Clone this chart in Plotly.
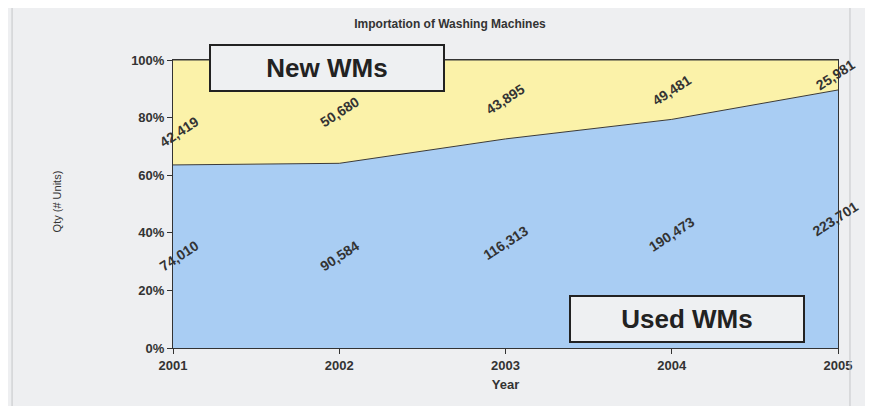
import plotly.graph_objects as go

years = [2001, 2002, 2003, 2004, 2005]
used_wms = [74010, 90584, 116313, 190473, 223701]
new_wms = [42419, 50680, 43895, 49481, 25981]
y_ticks = [0, 20, 40, 60, 80, 100]

FONT = "Liberation Sans, Arial, sans-serif"
TEXT = "#333333"

fig = go.Figure()

fig.add_trace(go.Scatter(
    x=years, y=used_wms, name="Used WMs", mode="lines",
    stackgroup="one", groupnorm="percent",
    line=dict(color="#3a3a3a", width=1), fillcolor="#a9cdf3",
))
fig.add_trace(go.Scatter(
    x=years, y=new_wms, name="New WMs", mode="lines",
    stackgroup="one",
    line=dict(color="#3a3a3a", width=1), fillcolor="#fbf2a9",
))

# value labels, placed in the middle of each band (edge labels nudged inward a bit)
x_nudge = {2001: 6, 2005: -3}
annotations = []
for yr, u, n in zip(years, used_wms, new_wms):
    total = u + n
    used_pct = u / total * 100
    dx = x_nudge.get(yr, 0)
    annotations.append(dict(x=yr, y=used_pct / 2, text=f"<b>{u:,}</b>", showarrow=False,
                            xshift=dx, textangle=-33,
                            font=dict(size=14, color=TEXT, family=FONT)))
    annotations.append(dict(x=yr, y=(used_pct + 100) / 2, text=f"<b>{n:,}</b>", showarrow=False,
                            xshift=dx, yshift=-20 if yr == 2001 else 0, textangle=-33,
                            font=dict(size=14, color=TEXT, family=FONT)))

# series name boxes
box_style = dict(xref="paper", yref="paper", xanchor="center", yanchor="middle",
                 showarrow=False, bgcolor="#eef0f2",
                 bordercolor="#222222", borderwidth=2, borderpad=2, width=228, height=40,
                 font=dict(size=26, color="#222222", family=FONT))
annotations.append(dict(x=0.2316, y=0.972, text="<b>New WMs</b>", **box_style))
annotations.append(dict(x=0.773, y=0.102, text="<b>Used WMs</b>", **box_style))

# y axis title
annotations.append(dict(x=-0.174, y=0.51, xref="paper", yref="paper", text="Qty (# Units)",
                        xanchor="center", yanchor="middle",
                        textangle=-90, showarrow=False,
                        font=dict(size=11, color=TEXT, family=FONT)))

fig.update_layout(
    width=865, height=398,
    margin=dict(l=165, r=35, t=52, b=58),
    paper_bgcolor="#eeeff1", plot_bgcolor="#eeeff1",
    showlegend=False,
    title=dict(text="<b>Importation of Washing Machines</b>", x=0.511, xanchor="center",
               y=0.96, yanchor="middle", font=dict(size=12, color=TEXT, family=FONT)),
    annotations=annotations,
    shapes=[dict(type="rect", xref="paper", yref="paper", x0=-0.242, x1=1.018,
                 y0=-0.25, y1=1.198, line=dict(color="#c4c6c8", width=1))],
)

fig.update_xaxes(
    range=[2001, 2005], tickvals=years, ticktext=[f"<b>{y}</b>" for y in years],
    showgrid=False, zeroline=False,
    showline=True, linecolor="#333333", linewidth=1, mirror=True,
    ticks="outside", ticklen=5, tickcolor="#333333",
    tickfont=dict(size=13, color=TEXT, family=FONT),
    title=dict(text="<b>Year</b>", standoff=8, font=dict(size=13, color=TEXT, family=FONT)),
)
fig.update_yaxes(
    range=[0, 100], tickvals=y_ticks, ticktext=[f"<b>{v}%</b>" for v in y_ticks],
    showgrid=False, zeroline=False,
    showline=True, linecolor="#333333", linewidth=1, mirror=True,
    ticks="outside", ticklen=5, tickcolor="#333333",
    tickfont=dict(size=13, color=TEXT, family=FONT),
)

fig.write_html("out.html")
